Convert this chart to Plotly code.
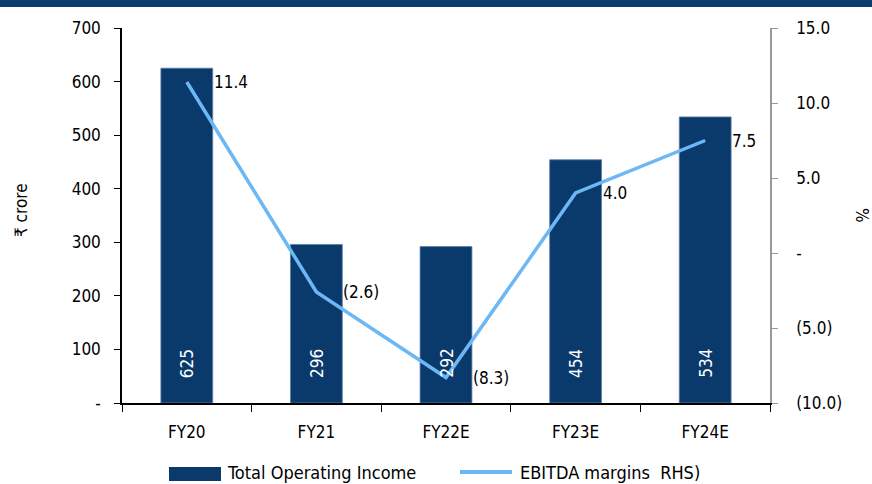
import plotly.graph_objects as go

categories = ["FY20", "FY21", "FY22E", "FY23E", "FY24E"]
income = [625, 296, 292, 454, 534]
margin = [11.4, -2.6, -8.3, 4.0, 7.5]
margin_labels = ["11.4", "(2.6)", "(8.3)", "4.0", "7.5"]
left_ticks = [0, 100, 200, 300, 400, 500, 600, 700]
left_ticktext = ["-", "100", "200", "300", "400", "500", "600", "700"]
right_ticks = [-10, -5, 0, 5, 10, 15]
right_ticktext = ["(10.0)", "(5.0)", "-", "5.0", "10.0", "15.0"]
bar_name = "Total Operating Income"
line_name = "EBITDA margins  RHS)"

FONT = "Liberation Sans Narrow, DejaVu Sans Condensed, Liberation Sans, sans-serif"
NAVY = "#0a3a6b"
LBLUE = "#6cb8f5"
FS = 17

L, R, T, B = 122, 102, 28, 81
PW, PH = 872 - L - R, 484 - T - B


def px(x):
    return (x - L) / PW


def py(y):
    return (484 - B - y) / PH


fig = go.Figure()
fig.add_trace(go.Bar(
    x=categories, y=income, name=bar_name,
    marker=dict(color=NAVY, line=dict(width=0.8, color="#5a7fa8")),
    width=0.4, yaxis="y", showlegend=False,
))
fig.add_trace(go.Scatter(
    x=categories, y=margin, name=line_name,
    mode="lines", line=dict(color=LBLUE, width=3.5),
    yaxis="y2", showlegend=False,
))

# bar value labels (rotated, near bar base)
for c, v in zip(categories, income):
    fig.add_annotation(x=c, y=0, xref="x", yref="y", text=str(v),
                       textangle=-90, showarrow=False, yanchor="bottom",
                       yshift=23, font=dict(color="white", size=FS))
# margin labels
for c, v, t in zip(categories, margin, margin_labels):
    fig.add_annotation(x=c, y=v, xref="x", yref="y2", text=t,
                       showarrow=False, xanchor="left", xshift=25,
                       font=dict(color="black", size=FS))

fig.update_layout(
    width=872, height=484,
    margin=dict(l=L, r=R, t=T, b=B, autoexpand=False),
    plot_bgcolor="white", paper_bgcolor="white",
    font=dict(family=FONT, size=FS, color="black"),
    showlegend=False,
    xaxis=dict(
        showline=True, linecolor="black", linewidth=1.5,
        ticks="outside", ticklen=7, tickcolor="black",
        tickson="boundaries", showgrid=False, automargin=False,
        ticklabelstandoff=13,
    ),
    yaxis=dict(
        range=[0, 700], tickvals=left_ticks, ticktext=left_ticktext,
        showline=True, linecolor="black", linewidth=1.5,
        ticks="outside", ticklen=6, tickcolor="black",
        showgrid=False, zeroline=False, ticklabelstandoff=10,
        automargin=False,
    ),
    yaxis2=dict(
        range=[-10, 15], tickvals=right_ticks, ticktext=right_ticktext,
        overlaying="y", side="right",
        showline=True, linecolor="#999999", linewidth=1.5,
        ticks="outside", ticklen=6, tickcolor="#999999",
        showgrid=False, zeroline=False, ticklabelstandoff=15,
        automargin=False,
    ),
)

# top band
fig.add_shape(type="rect", xref="paper", yref="paper",
              x0=px(0), x1=px(872), y0=py(7), y1=py(-2),
              fillcolor="#0b3c6e", line=dict(width=0), layer="above")
# axis titles
fig.add_annotation(text="₹ crore", xref="paper", yref="paper",
                   x=px(21), y=py(210), showarrow=False,
                   xanchor="center", yanchor="middle",
                   textangle=-90, font=dict(size=FS))
fig.add_annotation(text="%", xref="paper", yref="paper",
                   x=px(862), y=py(215), showarrow=False,
                   xanchor="center", yanchor="middle",
                   textangle=90, font=dict(size=FS))

# legend
fig.add_shape(type="rect", xref="paper", yref="paper",
              x0=px(169), x1=px(221), y0=py(481), y1=py(467),
              fillcolor=NAVY, line=dict(width=0))
fig.add_annotation(text=bar_name, xref="paper", yref="paper",
                   x=px(225), y=py(472), xanchor="left", yanchor="middle",
                   showarrow=False, font=dict(size=FS + 1))
fig.add_shape(type="line", xref="paper", yref="paper",
              x0=px(460), x1=px(512), y0=py(472), y1=py(472),
              line=dict(color=LBLUE, width=4))
fig.add_annotation(text=line_name, xref="paper", yref="paper",
                   x=px(518), y=py(472), xanchor="left", yanchor="middle",
                   showarrow=False, font=dict(size=FS + 1))

fig.write_html("out.html",
               config={"displayModeBar": False},
               post_script="document.body.style.margin='0px';"
                           "document.body.style.overflow='hidden';")
